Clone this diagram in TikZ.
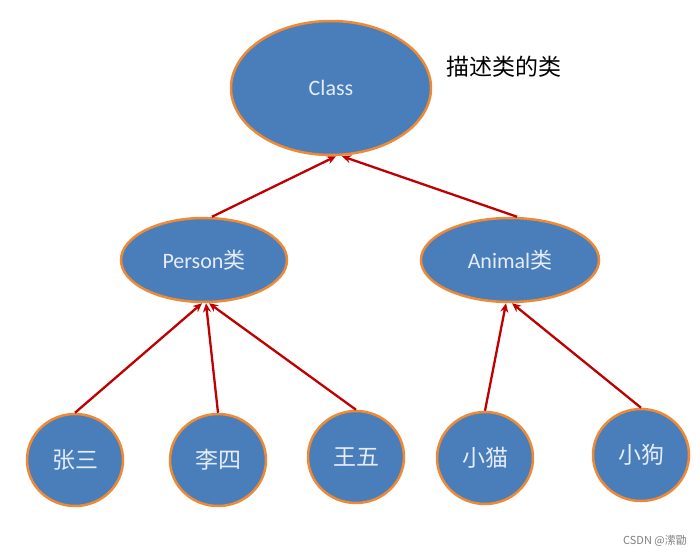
\documentclass[tikz,border=0pt]{standalone}
\usepackage{fontspec}
\setmainfont{Carlito}
\newfontfamily\cjk{Noto Sans CJK SC}
\usetikzlibrary{shapes.geometric,arrows.meta}
\definecolor{nodeblue}{HTML}{4A7EBB}
\definecolor{nodeedge}{HTML}{EE8A35}
\definecolor{arrred}{HTML}{C00000}
\definecolor{txtlight}{HTML}{E4ECF7}
\begin{document}
\begin{tikzpicture}[x=1pt,y=-1pt,
  blob/.style={ellipse, draw=nodeedge, line width=2.5pt, fill=nodeblue, text=txtlight, inner sep=0pt, font=\fontsize{22}{26}\selectfont},
  leaf/.style={blob, minimum width=96pt, minimum height=92pt, font=\cjk\fontsize{23}{27}\selectfont},
  arr/.style={draw=arrred, line width=2.3pt, -{Stealth[length=9pt,width=8pt]}}]
\useasboundingbox[fill=white] (0,0) rectangle (700,556);
\node[blob, minimum width=200pt, minimum height=134pt] (class) at (331,88) {Class};
\node[blob, minimum width=166pt, minimum height=84pt] (person) at (204,260) {Person{\cjk 类}};
\node[blob, minimum width=178pt, minimum height=84pt] (animal) at (510,260) {Animal{\cjk 类}};
\node[leaf] (zs) at (75,460) {张三};
\node[leaf] (ls) at (218,460) {李四};
\node[leaf] (ww) at (356,457) {王五};
\node[leaf] (xm) at (485,458) {小猫};
\node[leaf] (xg) at (641,455) {小狗};
\node[font=\cjk\fontsize{23}{27}\selectfont, anchor=west, inner sep=0pt] (desc) at (446,67) {描述类的类};
\node[text=gray, font=\cjk\fontsize{11}{13}\selectfont, inner sep=0pt] (wm) at (655,541) {CSDN @潆勖};
\draw[arr] ([xshift=8pt]person.north) -- ([xshift=5pt]class.south);
\draw[arr] ([xshift=7pt]animal.north) -- ([xshift=11pt]class.south);
\draw[arr] (zs.north) -- ([xshift=-2pt]person.south);
\draw[arr] (ls.north) -- ([xshift=2pt]person.south);
\draw[arr] (ww.north) -- ([xshift=5pt]person.south);
\draw[arr] (xm.north) -- ([xshift=-4pt]animal.south);
\draw[arr] (xg.north) -- ([xshift=2pt]animal.south);
\end{tikzpicture}
\end{document}
